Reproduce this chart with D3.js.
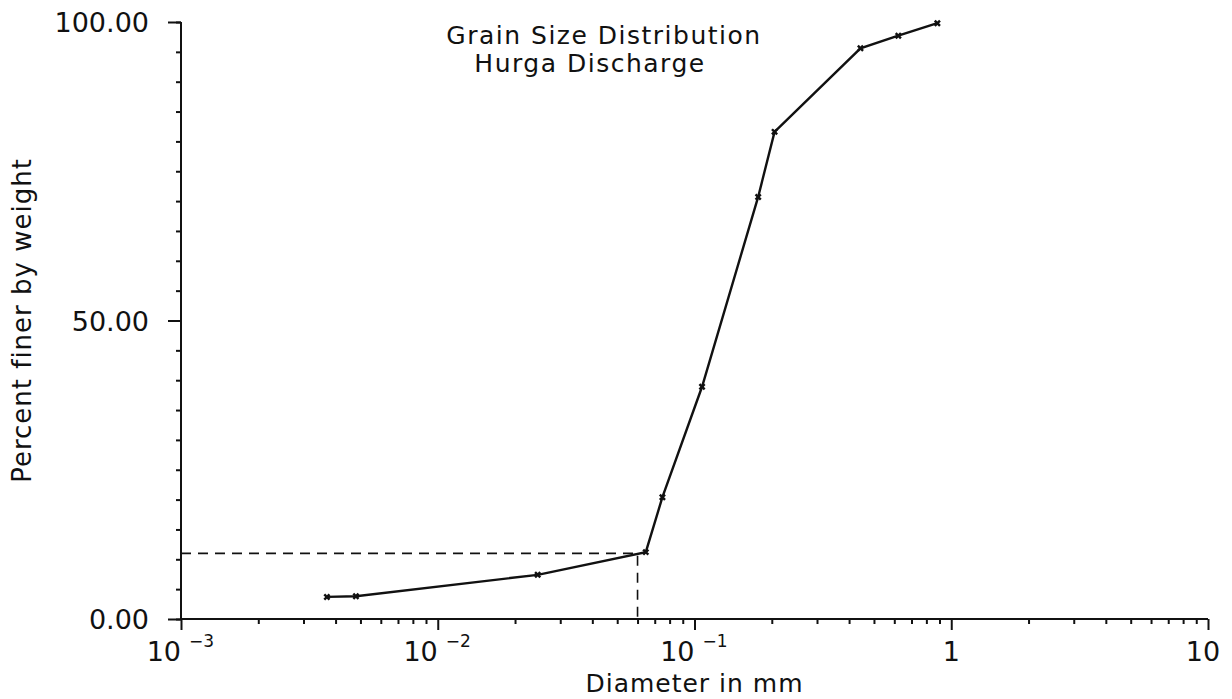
<!DOCTYPE html>
<html>
<head>
<meta charset="utf-8">
<script src="https://cdn.jsdelivr.net/npm/d3@7"></script>
<style>
  body { margin: 0; background: #fff; }
  text { font-family: "DejaVu Sans", sans-serif; fill: #111; }
</style>
</head>
<body>
<div id="chart"></div>
<script>
// Messwerte der Siebanalyse (Durchmesser in mm, Anteil in %)
const diameters = [0.0037, 0.0048, 0.0245, 0.0646, 0.075, 0.107, 0.177, 0.205, 0.443, 0.622, 0.883];
const percentFiner = [3.7, 3.8, 7.4, 11.2, 20.4, 38.9, 70.7, 81.6, 95.6, 97.7, 99.8];

// gestrichelte Hilfslinie (D10)
const refDiameter = [0.06];
const refPercent = [11];

const yTickValues = [0, 50, 100];
const yTickLabels = ["0.00", "50.00", "100.00"];
const xDecades = [1e-3, 1e-2, 1e-1, 1, 10];
const xDecadeBase = ["10", "10", "10", "1", "10"];
const xDecadeExp = ["-3", "-2", "-1", "", ""];

const titleLines = ["Grain Size Distribution", "Hurga Discharge"];
const xLabel = "Diameter in mm";
const yLabel = "Percent finer by weight";

const width = 1232, height = 699;
const margin = { left: 181, right: 24, top: 22, bottom: 80 };

const svg = d3.select("#chart").append("svg")
    .attr("width", width)
    .attr("height", height);

const x = d3.scaleLog()
    .domain([1e-3, 10])
    .range([margin.left, width - margin.right]);

const y = d3.scaleLinear()
    .domain([0, 100])
    .range([height - margin.bottom, margin.top]);

const data = diameters.map((d, i) => ({ d, p: percentFiner[i] }));

// X-Achse: Haupt- und Nebenticks
const minorX = [];
xDecades.slice(0, -1).forEach(dec => {
    for (let k = 2; k <= 9; k++) minorX.push(dec * k);
});

const xAxisMinor = d3.axisBottom(x)
    .tickValues(minorX)
    .tickSize(5)
    .tickFormat("");
const xAxisMajor = d3.axisBottom(x)
    .tickValues(xDecades)
    .tickSize(11)
    .tickFormat("");

const gx = svg.append("g").attr("transform", `translate(0, ${y(0)})`);
gx.call(xAxisMinor);
gx.append("g").call(xAxisMajor);
gx.selectAll(".domain").attr("stroke", "#111").attr("stroke-width", 2).attr("d", `M${x(1e-3)},0H${x(10)}`);
gx.selectAll(".tick line").attr("stroke", "#111").attr("stroke-width", 2);

// Dekaden-Beschriftung mit Exponent
xDecades.forEach((dec, i) => {
    const t = svg.append("text")
        .attr("y", y(0) + 42)
        .style("font-size", "27px");
    if (xDecadeExp[i]) {
        t.attr("x", x(dec))
            .attr("text-anchor", "end")
            .text(xDecadeBase[i]);
        svg.append("text")
            .attr("x", x(dec) + 8)
            .attr("y", y(0) + 28)
            .style("font-size", "17px")
            .text("\u2212" + xDecadeExp[i].slice(1));
    } else {
        t.attr("x", x(dec) - (i === xDecades.length - 1 ? 5 : 0))
            .attr("text-anchor", "middle")
            .text(xDecadeBase[i]);
    }
});

// Y-Achse
const minorY = d3.range(0, 101, 5);
const gy = svg.append("g").attr("transform", `translate(${margin.left}, 0)`);
gy.call(d3.axisLeft(y).tickValues(minorY).tickSize(5).tickFormat(""));
gy.append("g").call(d3.axisLeft(y).tickValues(yTickValues).tickSize(13).tickFormat(""));
gy.selectAll(".domain").attr("stroke", "#111").attr("stroke-width", 2).attr("d", `M0,${y(0)}V${y(100)}`);
gy.selectAll(".tick line").attr("stroke", "#111").attr("stroke-width", 2);

yTickValues.forEach((v, i) => {
    svg.append("text")
        .attr("x", margin.left - 32)
        .attr("y", y(v) + 10)
        .attr("text-anchor", "end")
        .style("font-size", "27px")
        .text(yTickLabels[i]);
});

// Achsentitel
svg.append("text")
    .attr("x", x(0.1))
    .attr("y", height - 7)
    .attr("text-anchor", "middle")
    .style("font-size", "25px")
    .style("letter-spacing", "1px")
    .text(xLabel);

svg.append("text")
    .attr("transform", `translate(31, ${y(50)}) rotate(-90)`)
    .attr("text-anchor", "middle")
    .style("font-size", "26px")
    .style("letter-spacing", "1px")
    .text(yLabel);

// Diagrammtitel
svg.append("text")
    .attr("x", 604)
    .attr("y", 44)
    .attr("text-anchor", "middle")
    .style("font-size", "25px")
    .style("letter-spacing", "1.5px")
    .text(titleLines[0]);
svg.append("text")
    .attr("x", 590)
    .attr("y", 72)
    .attr("text-anchor", "middle")
    .style("font-size", "25px")
    .style("letter-spacing", "1.5px")
    .text(titleLines[1]);

// Hilfslinie
svg.append("path")
    .attr("d", `M${x(1e-3)},${y(refPercent[0])}H${x(refDiameter[0])}V${y(0)}`)
    .attr("fill", "none")
    .attr("stroke", "#111")
    .attr("stroke-width", 1.6)
    .attr("stroke-dasharray", "10,7");

// Summenkurve
const line = d3.line()
    .x(d => x(d.d))
    .y(d => y(d.p));

svg.append("path")
    .datum(data)
    .attr("d", line)
    .attr("fill", "none")
    .attr("stroke", "#111")
    .attr("stroke-width", 2.4);

const symbol = d3.symbol().type(d3.symbolCross).size(30);
svg.selectAll(".pt")
    .data(data)
    .enter()
    .append("path")
    .attr("class", "pt")
    .attr("d", symbol)
    .attr("transform", d => `translate(${x(d.d)}, ${y(d.p)}) rotate(45)`)
    .attr("fill", "#111");
</script>
</body>
</html>
